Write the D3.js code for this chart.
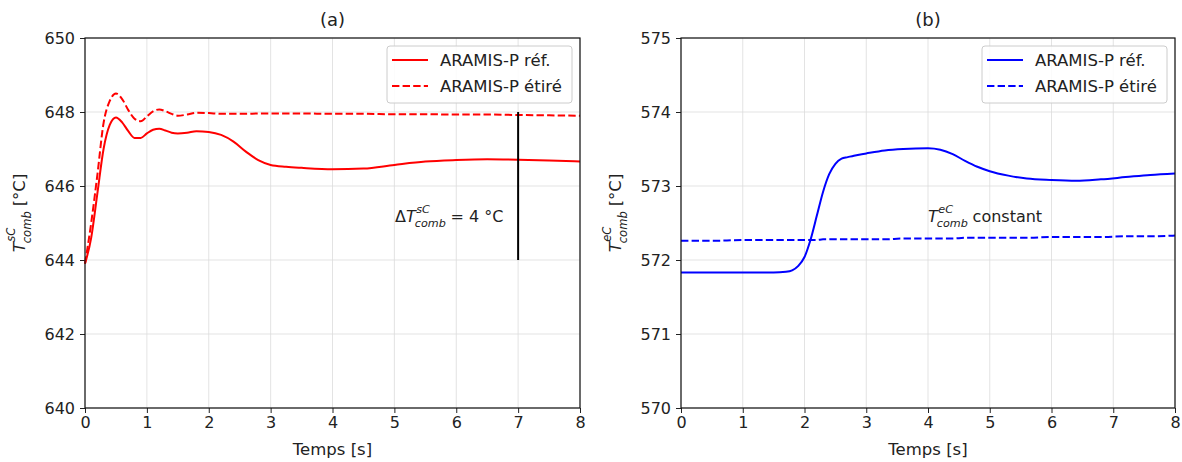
<!DOCTYPE html>
<html><head><meta charset="utf-8">
<script src="https://cdn.jsdelivr.net/npm/d3@7"></script>
<style>body{margin:0;background:#fff}svg{display:block}text{font-family:"DejaVu Sans",sans-serif;fill:#222}</style>
</head><body><svg id="c" width="1182" height="462"></svg>
<script>
const xTicks=[0,1,2,3,4,5,6,7,8];
const yTicksA=[640,642,644,646,648,650];
const yTicksB=[570,571,572,573,574,575];
const legendLabels=["ARAMIS-P réf.","ARAMIS-P étiré"];
const tA=[0,0.1,0.2,0.3,0.4,0.5,0.6,0.7,0.8,0.9,1.0,1.1,1.2,1.3,1.4,1.5,1.65,1.8,2.0,2.2,2.4,2.6,2.8,3.0,3.25,3.5,4.0,4.5,5.0,5.5,6.0,6.5,7.0,7.5,8.0];
const refA=[643.9,644.6,645.8,647.0,647.65,647.85,647.72,647.48,647.3,647.3,647.42,647.52,647.55,647.5,647.44,647.42,647.44,647.48,647.46,647.38,647.2,646.93,646.7,646.57,646.52,646.49,646.45,646.47,646.57,646.66,646.7,646.72,646.71,646.69,646.66];
const strA=[643.9,645.0,646.3,647.7,648.3,648.5,648.35,648.05,647.82,647.75,647.88,648.02,648.07,648.02,647.95,647.9,647.93,647.98,647.97,647.95,647.95,647.95,647.96,647.96,647.96,647.96,647.95,647.95,647.94,647.94,647.93,647.93,647.92,647.91,647.9];
const tB=[0,0.5,1.0,1.5,1.7,1.8,1.9,2.0,2.1,2.2,2.3,2.4,2.5,2.6,2.7,2.8,3.0,3.3,3.6,4.0,4.2,4.4,4.6,4.8,5.0,5.3,5.6,6.0,6.4,6.8,7.2,7.6,8.0];
const refB=[571.83,571.83,571.83,571.83,571.84,571.86,571.92,572.04,572.28,572.6,572.92,573.16,573.3,573.37,573.39,573.41,573.44,573.48,573.5,573.51,573.49,573.43,573.34,573.26,573.2,573.14,573.1,573.08,573.07,573.09,573.12,573.15,573.17];
const strB=[572.26,572.26,572.27,572.27,572.27,572.27,572.27,572.27,572.27,572.27,572.28,572.28,572.28,572.28,572.28,572.28,572.28,572.28,572.29,572.29,572.29,572.29,572.3,572.3,572.3,572.3,572.3,572.31,572.31,572.31,572.32,572.32,572.33];

const svg=d3.select("#c");
function measure(str,fs,italic){
  const t=svg.append("text").style("font-size",fs+"px").style("font-style",italic?"italic":"normal").text(str);
  const w=t.node().getComputedTextLength(); t.remove(); return w;
}
function mathLabel(g,x,y,pre,sup,rest,fs,anchor){
  const s=fs*0.7;
  const w1=measure(pre,fs,false)+measure("T",fs,true);
  const supW=measure(sup,s,true), subW=measure("comb",s,true);
  const gap=fs*0.3, restW=measure(rest,fs,false);
  const W=w1+Math.max(supW+0.5,subW-1)+gap+restW;
  const x0=anchor==="middle"?x-W/2:x;
  const t=g.append("text").attr("x",x0).attr("y",y).style("font-size",fs+"px");
  if(pre) t.append("tspan").text(pre);
  t.append("tspan").style("font-style","italic").text("T");
  const up=fs*0.58, dn=fs*0.34;
  t.append("tspan").style("font-style","italic").style("font-size",s+"px").attr("dx",0.5).attr("dy",-up).text(sup);
  t.append("tspan").style("font-style","italic").style("font-size",s+"px").attr("dx",-(supW+0.5)-1).attr("dy",up+dn).text("comb");
  const cur=w1-1+subW, target=w1+Math.max(supW+0.5,subW-1)+gap;
  t.append("tspan").attr("dx",target-cur).attr("dy",-dn).text(rest);
  return t;
}
function panel(o){
  const x=d3.scaleLinear().domain([0,8]).range([o.x0,o.x1]);
  const y=d3.scaleLinear().domain(o.ydom).range([408,38]);
  const g=svg.append("g");
  g.selectAll(".gx").data(xTicks).enter().append("line").attr("x1",d=>x(d)).attr("x2",d=>x(d)).attr("y1",38).attr("y2",408).attr("stroke","#dcdcdc").attr("stroke-width",0.8);
  g.selectAll(".gy").data(o.yt).enter().append("line").attr("y1",d=>y(d)).attr("y2",d=>y(d)).attr("x1",o.x0).attr("x2",o.x1).attr("stroke","#dcdcdc").attr("stroke-width",0.8);
  const ax=g.append("g").attr("transform","translate(0,408)").call(d3.axisBottom(x).tickValues(xTicks).tickSize(5).tickPadding(4).tickFormat(d3.format("d")));
  const ay=g.append("g").attr("transform",`translate(${o.x0},0)`).call(d3.axisLeft(y).tickValues(o.yt).tickSize(5).tickPadding(5).tickFormat(d3.format("d")));
  [ax,ay].forEach(a=>{a.selectAll("text").style("font-size","16px").style("font-family","DejaVu Sans").attr("fill","#222");a.select(".domain").remove();a.selectAll("line").attr("stroke","#222");});
  const line=d3.line().curve(d3.curveMonotoneX).x(d=>x(d[0])).y(d=>y(d[1]));
  g.append("path").datum(o.t.map((t,i)=>[t,o.ref[i]])).attr("d",line).attr("fill","none").attr("stroke",o.col).attr("stroke-width",2);
  g.append("path").datum(o.t.map((t,i)=>[t,o.str[i]])).attr("d",line).attr("fill","none").attr("stroke",o.col).attr("stroke-width",2).attr("stroke-dasharray","7.4,3.2");
  g.append("rect").attr("x",o.x0).attr("y",38).attr("width",o.x1-o.x0).attr("height",370).attr("fill","none").attr("stroke","#111").attr("stroke-width",1.2);
  g.append("text").attr("x",(o.x0+o.x1)/2).attr("y",26).attr("text-anchor","middle").style("font-size","18px").text(o.title);
  g.append("text").attr("x",(o.x0+o.x1)/2).attr("y",455).attr("text-anchor","middle").style("font-size","16.5px").text("Temps [s]");
  const yl=g.append("g").attr("transform",`translate(${o.x0-60},213) rotate(-90)`);
  mathLabel(yl,0,0,"",o.sup,"[°C]",16.5,"middle");
  const lg=g.append("g").attr("transform",`translate(${o.x1-193},46)`);
  lg.append("rect").attr("width",185).attr("height",57).attr("rx",3).attr("fill","#fff").attr("fill-opacity",0.85).attr("stroke","#ccc");
  legendLabels.forEach((lab,i)=>{
    const yy=14+26*i;
    lg.append("line").attr("x1",5).attr("x2",41).attr("y1",yy).attr("y2",yy).attr("stroke",o.col).attr("stroke-width",2).attr("stroke-dasharray",i?"7.4,3.2":null);
    lg.append("text").attr("x",53).attr("y",yy+6).style("font-size","16.5px").text(lab);
  });
  return {x,y,g};
}
const A=panel({x0:85,x1:580,ydom:[640,650],yt:yTicksA,t:tA,ref:refA,str:strA,col:"#ff0000",title:"(a)",sup:"sC"});
const B=panel({x0:681,x1:1175,ydom:[570,575],yt:yTicksB,t:tB,ref:refB,str:strB,col:"#0000ff",title:"(b)",sup:"eC"});
A.g.append("line").attr("x1",A.x(7)).attr("x2",A.x(7)).attr("y1",A.y(644)).attr("y2",A.y(648)).attr("stroke","#000").attr("stroke-width",2);
mathLabel(A.g,395,222,"Δ","sC","= 4 °C",16,"start");
mathLabel(B.g,928,222,"","eC","constant",16,"start");
</script></body></html>
